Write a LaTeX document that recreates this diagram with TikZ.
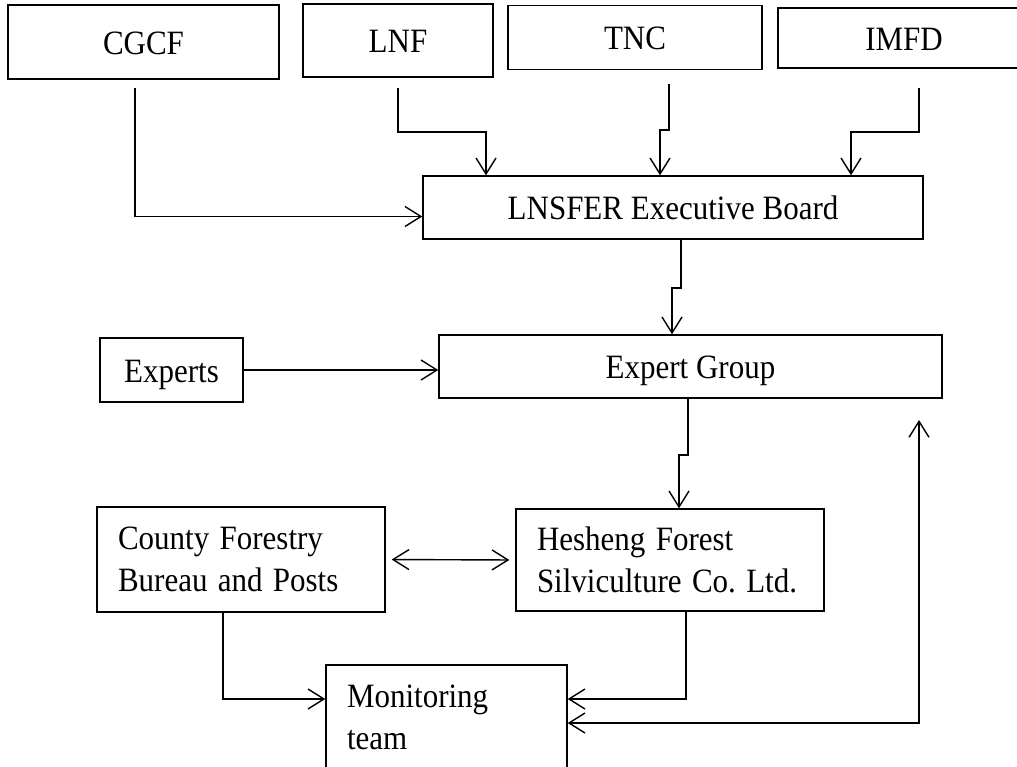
\documentclass[tikz,border=0pt]{standalone}
\usepackage{graphicx}
\usepackage{fontspec}
\setmainfont{Liberation Serif}
\usetikzlibrary{arrows.meta}
\newcommand{\tallText}[1]{\scalebox{1}[1.1]{#1}}

\begin{document}
\begin{tikzpicture}[x=0.5pt, y=-0.5pt,
    frame/.style={draw, line width=0.7pt, inner sep=0pt, font=\fontsize{15.5}{21}\selectfont},
    box/.style={frame, text height=12pt, text depth=0pt},
    leftbox/.style={frame, align=left, inner xsep=10.5pt},
    link/.style={line width=0.7pt, -{Straight Barb[length=8pt,width=10pt]}},
    dlink/.style={line width=0.7pt, {Straight Barb[length=8pt,width=10pt]}-{Straight Barb[length=8pt,width=10pt]}}]
    \useasboundingbox (0,0) rectangle (1017,766);
    \clip (0,0) rectangle (1017,766);

    % Funding partners
    \node[box, minimum width=135.5pt, minimum height=37pt] (cgcf) at (143.5,42) {\tallText{CGCF}};
    \node[box, minimum width=95pt, minimum height=36.5pt] (lnf) at (398,40.5) {\tallText{LNF}};
    \node[box, minimum width=127pt, minimum height=32pt] (tnc) at (635,37.5) {\tallText{TNC}};
    \node[box, minimum width=126pt, minimum height=30pt] (imfd) at (904,38) {\tallText{IMFD}};

    % Board and experts
    \node[box, minimum width=250pt, minimum height=31.5pt] (lnsfer) at (673,207.5) {\tallText{LNSFER Executive Board}};
    \node[box, minimum width=71.5pt, minimum height=32pt] (experts) at (171.5,370) {\tallText{Experts}};
    \node[box, minimum width=251.5pt, minimum height=31.5pt] (eg) at (690.5,366.5) {\tallText{Expert Group}};

    % Local level
    \node[leftbox, text width=123pt, minimum height=52.5pt] (county) at (241,559.5)
      {\tallText{County Forestry}\\\tallText{Bureau and Posts}};
    \node[leftbox, text width=133pt, minimum height=51pt] (hesheng) at (670,560)
      {\tallText{Hesheng Forest}\\\tallText{Silviculture Co.\ Ltd.}};
    \node[leftbox, text width=99.5pt, minimum height=52.5pt] (mon) at (446.5,717.5)
      {\tallText{Monitoring}\\\tallText{team}};

    % Partners to board
    \coordinate (cgcfout) at (135,88);
    \coordinate (lnfout) at (398,88);
    \coordinate (tncout) at (669,84);
    \coordinate (imfdout) at (919,88);
    \draw[link] (cgcfout) |- ([yshift=-4.5pt]lnsfer.west);
    \draw[link] (lnfout) -- ++(0,44) -| (lnsfer.north -| 486,0);
    \draw[link] (tncout) -- ++(0,46) -| (lnsfer.north -| 660,0);
    \draw[link] (imfdout) -- ++(0,44) -| (lnsfer.north -| 851,0);

    % Board to expert group
    \draw[link] (lnsfer.south -| 681,0) -- (681,288) -| (eg.north -| 672,0);
    \draw[link] (experts.east) -- (eg.west |- experts.east);

    % Expert group to company
    \draw[link] (eg.south -| 688,0) -- (688,455) -| (hesheng.north -| 679,0);
    \draw[dlink, shorten <=3pt, shorten >=3pt] (county.east) -- (hesheng.west);

    % Monitoring
    \draw[link] (county.south -| 223,0) |- (mon.west |- 0,699);
    \draw[link] (hesheng.south -| 686,0) |- (mon.east |- 0,699);
    \coordinate (fbtip) at (919,420);
    \draw[dlink] (mon.east |- 0,723) -| (fbtip);
\end{tikzpicture}
\end{document}
